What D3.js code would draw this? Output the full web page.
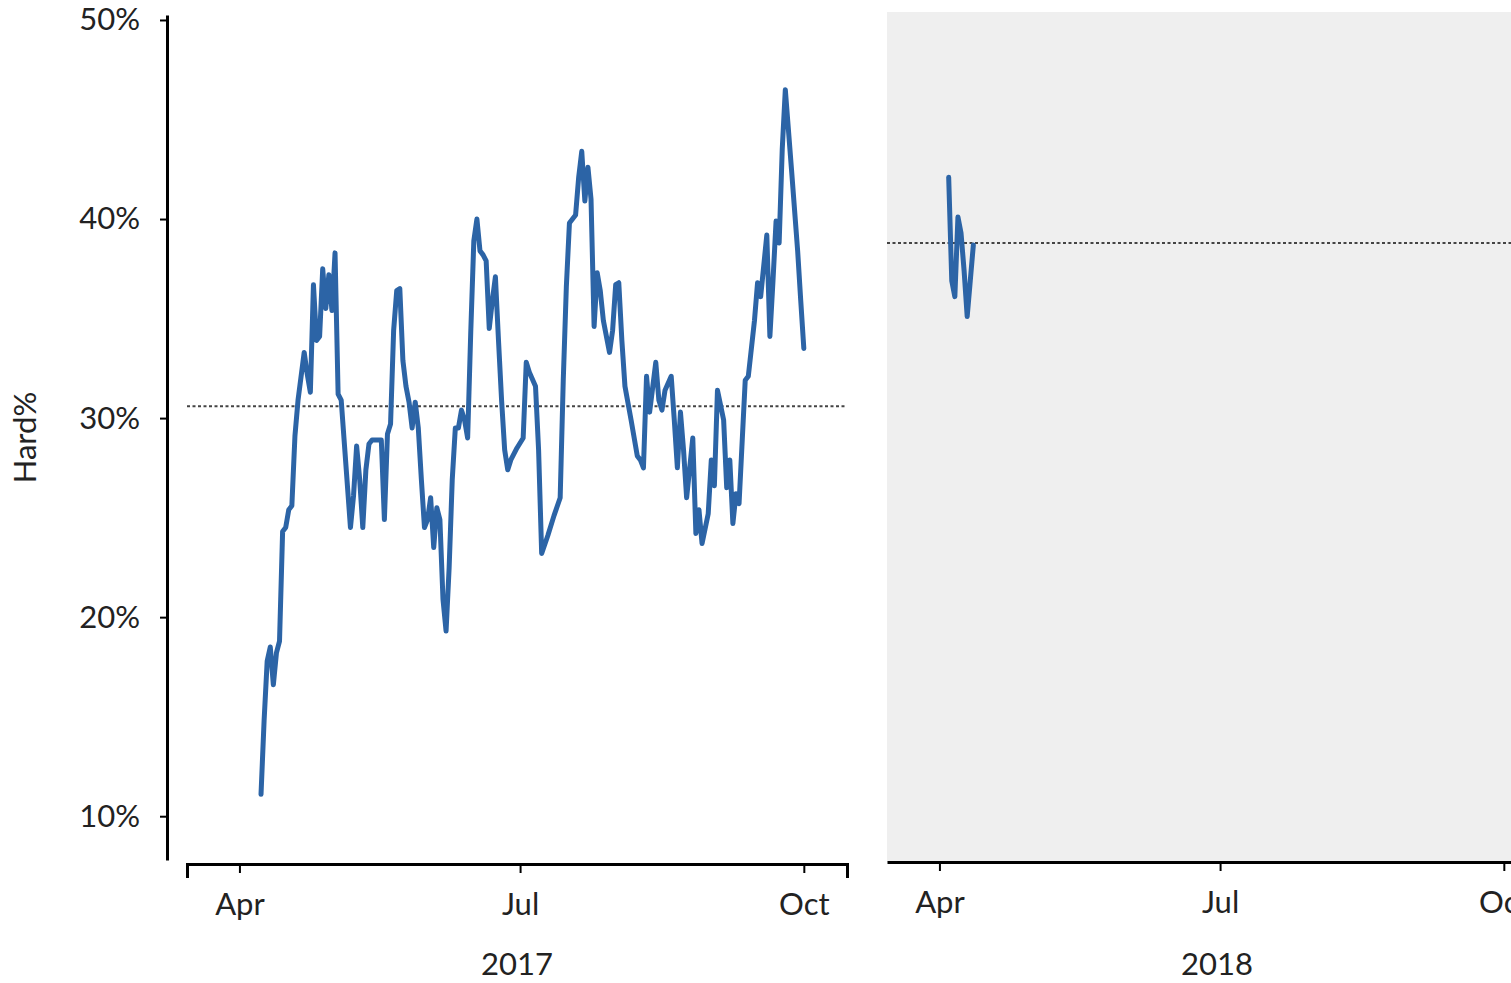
<!DOCTYPE html>
<html lang="en">
<head>
    <meta charset="UTF-8">
    <title>Hard%</title>
    <style>
        body { margin: 0; background: #fff; }
        svg { display: block; font-family: Lato, 'Open Sans', sans-serif; }
    </style>
</head>
<body>
<div id="container"></div>
<script src="https://cdn.jsdelivr.net/npm/d3@7"></script>
<script>
    /* Data */

    const dates2017 = [
        '2017-04-08', '2017-04-09', '2017-04-10', '2017-04-11', '2017-04-12', '2017-04-13', '2017-04-14',
        '2017-04-15', '2017-04-16', '2017-04-17', '2017-04-18', '2017-04-19', '2017-04-20', '2017-04-22',
        '2017-04-23', '2017-04-24', '2017-04-25', '2017-04-26', '2017-04-27', '2017-04-28', '2017-04-29',
        '2017-04-30', '2017-05-01', '2017-05-02', '2017-05-03', '2017-05-04', '2017-05-07', '2017-05-08',
        '2017-05-09', '2017-05-10', '2017-05-11', '2017-05-12', '2017-05-13', '2017-05-14', '2017-05-16',
        '2017-05-17', '2017-05-18', '2017-05-19', '2017-05-20', '2017-05-21', '2017-05-22', '2017-05-23',
        '2017-05-24', '2017-05-25', '2017-05-26', '2017-05-27', '2017-05-28', '2017-05-29', '2017-05-30',
        '2017-05-31', '2017-06-01', '2017-06-02', '2017-06-03', '2017-06-04', '2017-06-05', '2017-06-06',
        '2017-06-07', '2017-06-08', '2017-06-09', '2017-06-10', '2017-06-11', '2017-06-12', '2017-06-13',
        '2017-06-14', '2017-06-15', '2017-06-16', '2017-06-17', '2017-06-18', '2017-06-19', '2017-06-20',
        '2017-06-21', '2017-06-22', '2017-06-23', '2017-06-24', '2017-06-25', '2017-06-26', '2017-06-27',
        '2017-06-28', '2017-06-30', '2017-07-02', '2017-07-03', '2017-07-04', '2017-07-06', '2017-07-07',
        '2017-07-08', '2017-07-10', '2017-07-12', '2017-07-14', '2017-07-15', '2017-07-16', '2017-07-17',
        '2017-07-19', '2017-07-20', '2017-07-21', '2017-07-22', '2017-07-23', '2017-07-24', '2017-07-25',
        '2017-07-26', '2017-07-27', '2017-07-28', '2017-07-30', '2017-07-31', '2017-08-01', '2017-08-02',
        '2017-08-03', '2017-08-04', '2017-08-06', '2017-08-08', '2017-08-09', '2017-08-10', '2017-08-11',
        '2017-08-12', '2017-08-14', '2017-08-15', '2017-08-16', '2017-08-17', '2017-08-19', '2017-08-20',
        '2017-08-21', '2017-08-22', '2017-08-23', '2017-08-24', '2017-08-26', '2017-08-27', '2017-08-28',
        '2017-08-29', '2017-08-31', '2017-09-01', '2017-09-02', '2017-09-03', '2017-09-05', '2017-09-06',
        '2017-09-07', '2017-09-08', '2017-09-09', '2017-09-10', '2017-09-12', '2017-09-13', '2017-09-15',
        '2017-09-16', '2017-09-17', '2017-09-19', '2017-09-20', '2017-09-21', '2017-09-22', '2017-09-23',
        '2017-09-24', '2017-09-25', '2017-09-27', '2017-09-29', '2017-09-30', '2017-10-01'
    ]
    const hard2017 = [
        11.1, 14.8, 17.8, 18.5, 16.6, 18.2, 18.8,
        24.3, 24.5, 25.4, 25.6, 29.1, 30.9, 33.3,
        32.2, 31.3, 36.7, 33.9, 34.1, 37.5, 35.5,
        37.2, 35.4, 38.3, 31.2, 30.9, 24.5, 26.1,
        28.6, 26.9, 24.5, 27.4, 28.7, 28.9, 28.9,
        28.9, 24.9, 29.2, 29.7, 34.4, 36.4, 36.5,
        32.9, 31.6, 30.8, 29.5, 30.8, 29.5, 26.9,
        24.5, 24.9, 26.0, 23.5, 25.5, 24.9, 20.9,
        19.3, 22.5, 26.9, 29.5, 29.5, 30.4, 29.9,
        29.0, 34.3, 38.9, 40.0, 38.4, 38.2, 37.9,
        34.5, 35.9, 37.1, 33.9, 30.9, 28.4, 27.4,
        27.9, 28.5, 29.0, 32.8, 32.3, 31.6, 28.4,
        23.2, 24.1, 25.1, 26.0, 31.9, 36.6, 39.8,
        40.2, 42.1, 43.4, 40.9, 42.6, 41.0, 34.6,
        37.3, 36.4, 34.9, 33.3, 34.4, 36.7, 36.8,
        33.9, 31.6, 29.9, 28.1, 27.9, 27.5, 32.1,
        30.3, 32.8, 30.9, 30.4, 31.4, 32.1, 29.9,
        27.5, 30.3, 28.4, 26.0, 29.0, 24.2, 25.4,
        23.7, 25.2, 27.9, 26.6, 31.4, 29.9, 26.5,
        27.9, 24.7, 26.2, 25.7, 31.9, 32.1, 34.9,
        36.8, 36.1, 39.2, 34.1, 36.9, 39.9, 38.8,
        43.5, 46.5, 42.5, 38.4, 35.9, 33.5
    ]

    const dates2018 = [
        '2018-04-04', '2018-04-05', '2018-04-06', '2018-04-07', '2018-04-08',
        '2018-04-09', '2018-04-10', '2018-04-11', '2018-04-12'
    ]
    const hard2018 = [42.1, 36.9, 36.1, 40.1, 39.3, 37.4, 35.1, 36.9, 38.7]

    const years = [2017, 2018]
    const averages = [30.6, 38.8]          // dotted season averages
    const tickMonths = ['04-01', '07-01', '10-01']
    const yTicks = [10, 20, 30, 40, 50]

    /* Layout */

    const width = 1511
    const height = 983
    const panelLeft = [187, 887]
    const panelWidth = 660
    const axisY = [864, 862]

    const lineColor = '#2c64a6'
    const textColor = '#222'
    const fontSize = 31

    const parse = d3.timeParse('%Y-%m-%d')
    const series = [
        dates2017.map((d, i) => ({date: parse(d), v: hard2017[i]})),
        dates2018.map((d, i) => ({date: parse(d), v: hard2018[i]}))
    ]

    const y = d3.scaleLinear().domain([7.8, 50.25]).range([860, 15])

    const svg = d3.select('#container').append('svg')
        .attr('width', width)
        .attr('height', height)

    // grey background for the 2018 panel
    svg.append('rect')
        .attr('x', panelLeft[1])
        .attr('y', y(50.4))
        .attr('width', panelWidth)
        .attr('height', axisY[1] - y(50.4))
        .attr('fill', '#efefef')

    /* Y axis */

    const yAxis = svg.append('g')
        .attr('transform', 'translate(167,0)')
        .call(d3.axisLeft(y).tickValues(yTicks).tickFormat(d => d + '%')
            .tickSizeInner(7).tickSizeOuter(0).tickPadding(20))
    yAxis.select('.domain').attr('stroke', '#000').attr('stroke-width', 3)
    yAxis.selectAll('.tick line').attr('stroke', '#000').attr('stroke-width', 2)
    yAxis.selectAll('.tick text')
        .attr('fill', textColor)
        .attr('font-family', 'Lato, sans-serif')
        .attr('font-size', fontSize)

    svg.append('text')
        .attr('transform', `translate(36,${(y.range()[0] + y.range()[1]) / 2}) rotate(-90)`)
        .attr('text-anchor', 'middle')
        .attr('font-size', fontSize)
        .attr('fill', textColor)
        .text('Hard%')

    /* Panels */

    const lineGen = d3.line().x(d => d.x).y(d => y(d.v))

    years.forEach((year, i) => {
        const x = d3.scaleTime()
            .domain([new Date(year, 2, 15), new Date(year, 9, 15)])
            .range([panelLeft[i], panelLeft[i] + panelWidth])

        const xAxis = svg.append('g')
            .attr('transform', `translate(0,${axisY[i]})`)
            .call(d3.axisBottom(x)
                .tickValues(tickMonths.map(m => parse(year + '-' + m)))
                .tickFormat(d3.timeFormat('%b'))
                .tickSizeInner(9)
                .tickSizeOuter(i === 0 ? 14 : 0)
                .tickPadding(20))
        xAxis.select('.domain').attr('stroke', '#000').attr('stroke-width', 3)
        xAxis.selectAll('.tick line').attr('stroke', '#000').attr('stroke-width', 2)
        xAxis.selectAll('.tick text')
            .attr('fill', textColor)
            .attr('font-family', 'Lato, sans-serif')
            .attr('font-size', fontSize)

        svg.append('text')
            .attr('x', panelLeft[i] + panelWidth / 2)
            .attr('y', 975)
            .attr('text-anchor', 'middle')
            .attr('font-size', fontSize)
            .attr('fill', textColor)
            .text(year)

        // season average
        svg.append('line')
            .attr('x1', x.range()[0])
            .attr('x2', x.range()[1])
            .attr('y1', y(averages[i]))
            .attr('y2', y(averages[i]))
            .attr('stroke', '#444')
            .attr('stroke-width', 2)
            .attr('stroke-dasharray', '3,2.5')

        svg.append('path')
            .datum(series[i].map(d => ({x: x(d.date), v: d.v})))
            .attr('fill', 'none')
            .attr('stroke', lineColor)
            .attr('stroke-width', 5)
            .attr('stroke-linejoin', 'round')
            .attr('stroke-linecap', 'round')
            .attr('d', lineGen)
    })
</script>
</body>
</html>
